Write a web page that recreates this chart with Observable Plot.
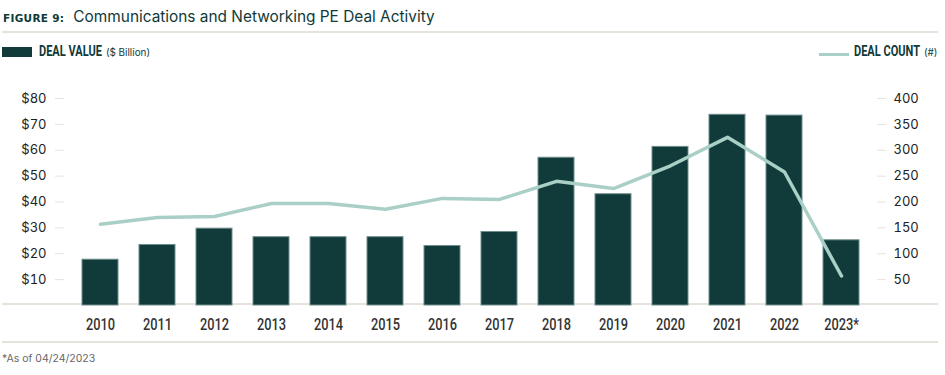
<!DOCTYPE html>
<html>
<head>
<meta charset="utf-8">
<script src="https://cdn.jsdelivr.net/npm/d3@7"></script>
<script src="https://cdn.jsdelivr.net/npm/@observablehq/plot@0.6"></script>
<style>
  html, body { margin: 0; padding: 0; background: #fff; }
  #wrap { position: relative; width: 945px; height: 375px; overflow: hidden; font-family: Inter, "Noto Sans", sans-serif; }
  .abs { position: absolute; white-space: nowrap; }
  #title { left: 3px; top: 7px; color: #0f3a38; display: flex; align-items: baseline; }
  #title .fig { font-family: "DejaVu Sans", sans-serif; font-weight: bold; font-size: 10.5px; letter-spacing: 0.3px; margin-right: 9px; }
  #title .main { font-size: 15.4px; }
  .rule { position: absolute; left: 2px; width: 936px; height: 2px; background: #e6e3dd; }
  .leg { font-family: Roboto, sans-serif; font-weight: bold; font-size: 14.5px; color: #0f3a38; display: flex; align-items: baseline; transform: scaleX(0.76); transform-origin: 0 0; }
  .leg small { font-family: Inter, "Noto Sans", sans-serif; font-weight: normal; font-size: 10px; margin-left: 5px; transform: scaleX(1.3); display: inline-block; transform-origin: 0 0; }
  #legL { left: 39px; top: 43px; }
  #legR { left: 854px; top: 43px; }
  #swL { left: 2px; top: 47px; width: 30px; height: 10px; background: #113a3a; }
  #swR { left: 819px; top: 53px; width: 30px; height: 3px; background: #a9cfc6; }
  #note { left: 2px; top: 352px; font-size: 10.5px; color: #666; }
  #chart { position: absolute; left: 0; top: 60px; }
  #chart svg { overflow: visible; }
</style>
</head>
<body>
<div id="wrap">
  <div id="title" class="abs"><span class="fig">FIGURE 9:</span><span class="main">Communications and Networking PE Deal Activity</span></div>
  <div class="rule" style="top:31px"></div>
  <div id="swL" class="abs"></div>
  <div id="legL" class="abs leg">DEAL VALUE<small>($ Billion)</small></div>
  <div id="swR" class="abs"></div>
  <div id="legR" class="abs leg">DEAL COUNT<small>(#)</small></div>
  <div class="rule" style="top:303px"></div>
  <div class="rule" style="top:341px"></div>
  <div id="note" class="abs">*As of 04/24/2023</div>
  <div id="chart"></div>
</div>
<script>
const years = ["2010","2011","2012","2013","2014","2015","2016","2017","2018","2019","2020","2021","2022","2023*"];
const dealValue = [17.7, 23.4, 29.7, 26.4, 26.4, 26.4, 23.0, 28.4, 57.1, 43.0, 61.3, 73.7, 73.4, 25.2];
const dealCount = [157, 170, 172, 197, 197, 186, 207, 205, 240, 226, 270, 325, 258, 57];
const valueTicks = [10, 20, 30, 40, 50, 60, 70, 80];
const countTicks = [50, 100, 150, 200, 250, 300, 350, 400];

const countMax = 400, valueMax = 80;
const data = years.map((y, i) => ({year: y, value: dealValue[i], count: dealCount[i]}));

const chart = Plot.plot({
  width: 945,
  height: 290,
  marginTop: 38,
  marginBottom: 45,
  marginLeft: 64,
  marginRight: 69,
  style: {background: "transparent", overflow: "visible"},
  x: {domain: years, range: [60.5, 881], paddingInner: 0.37, paddingOuter: 0.3, label: null},
  y: {domain: [0, valueMax], label: null},
  marks: [
    Plot.barY(data, {x: "year", y: "value", fill: "#113a3a", stroke: "#6f8f8c", strokeWidth: 1}),
    Plot.lineY(data, {x: "year", y: d => d.count * valueMax / countMax, stroke: "#a9cfc6", strokeWidth: 3.5, strokeLinejoin: "round"}),
    Plot.axisY(valueTicks, {anchor: "left", label: null, tickSize: 9, tickPadding: 9, stroke: "#e6e3dd", fill: "#222", fontSize: 13, fontFamily: "Inter, 'Noto Sans', sans-serif", tickFormat: d => "$" + d}),
    Plot.axisY(countTicks.map(c => c * valueMax / countMax), {anchor: "right", label: null, tickSize: 9, tickPadding: 8, stroke: "#e6e3dd", fill: "#222", fontSize: 13, fontFamily: "Inter, 'Noto Sans', sans-serif", tickFormat: d => String(d * countMax / valueMax)}),
    Plot.axisX({anchor: "bottom", label: null, tickSize: 0, tickPadding: 13, fill: "#333", fontSize: 16, fontFamily: "Roboto, sans-serif", fontWeight: 500})
  ]
});
document.getElementById("chart").appendChild(chart);

// condense the year labels horizontally (no condensed face installed)
d3.select(chart).selectAll('g[aria-label="x-axis tick label"] text').each(function() {
  const t = d3.select(this);
  const xa = t.attr("x");
  const x = (xa != null && !isNaN(+xa)) ? +xa : 0;
  const tr = t.attr("transform") || "";
  if (xa != null && !isNaN(+xa)) t.attr("x", null);
  t.attr("transform", `${tr} translate(${x},0) scale(0.8,1)`);
});
</script>
</body>
</html>
